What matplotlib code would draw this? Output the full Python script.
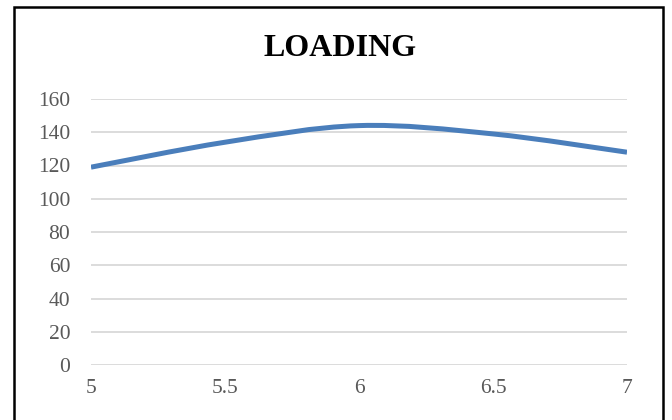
import numpy as np
import matplotlib
matplotlib.use("Agg")
import matplotlib.pyplot as plt
from matplotlib.path import Path
from matplotlib.patches import PathPatch, Rectangle

# loading values at each x step
x_vals = [5.0, 5.5, 6.0, 6.5, 7.0]
loading = [119, 134, 144, 139, 128]
x_ticks = [5, 5.5, 6, 6.5, 7]
x_tick_labels = ["5", "5.5", "6", "6.5", "7"]
y_ticks = [0, 20, 40, 60, 80, 100, 120, 140, 160]

plt.rcParams['font.family'] = ['Liberation Serif', 'DejaVu Serif']


def smooth_path(xs, ys, tension=1.0 / 6):
    # cubic bezier segments through each point (spreadsheet style smoothed line)
    xs = np.asarray(xs, float)
    ys = np.asarray(ys, float)
    n = len(xs)
    verts = [(xs[0], ys[0])]
    codes = [Path.MOVETO]
    for i in range(n - 1):
        p0 = i - 1 if i > 0 else i
        p3 = i + 2 if i + 2 < n else i + 1
        c1 = (xs[i] + (xs[i + 1] - xs[p0]) * tension,
              ys[i] + (ys[i + 1] - ys[p0]) * tension)
        c2 = (xs[i + 1] - (xs[p3] - xs[i]) * tension,
              ys[i + 1] - (ys[p3] - ys[i]) * tension)
        verts += [c1, c2, (xs[i + 1], ys[i + 1])]
        codes += [Path.CURVE4] * 3
    return Path(verts, codes)


fig = plt.figure(figsize=(6.72, 4.2), dpi=100)
ax = fig.add_axes([91 / 672, 1 - 365 / 420, 536 / 672, 266 / 420])

ax.add_patch(PathPatch(smooth_path(x_vals, loading), facecolor='none',
                       edgecolor='#4a7ebb', linewidth=3.6, capstyle='butt',
                       zorder=3))

ax.set_xlim(5, 7)
ax.set_ylim(0, 160)
ax.set_xticks(x_ticks)
ax.set_xticklabels(x_tick_labels)
ax.set_yticks(y_ticks)
ax.yaxis.grid(True, color='#d9d9d9', linewidth=1.3)
ax.set_axisbelow(True)
for s in ax.spines.values():
    s.set_visible(False)
ax.tick_params(axis='both', length=0, labelsize=15.5, labelcolor='#595959')
ax.tick_params(axis='y', pad=15)
ax.tick_params(axis='x', pad=10)

fig.text(340 / 672, 1 - 48 / 420, "LOADING", ha='center', va='center',
         fontsize=23, fontweight='bold', color='black')

# outer chart frame
fig.patches.append(Rectangle((14 / 672, -0.05), 649 / 672, 1.05 - 7 / 420,
                             transform=fig.transFigure, fill=False,
                             edgecolor='black', linewidth=1.8))

fig.savefig("out.png", dpi=100)
